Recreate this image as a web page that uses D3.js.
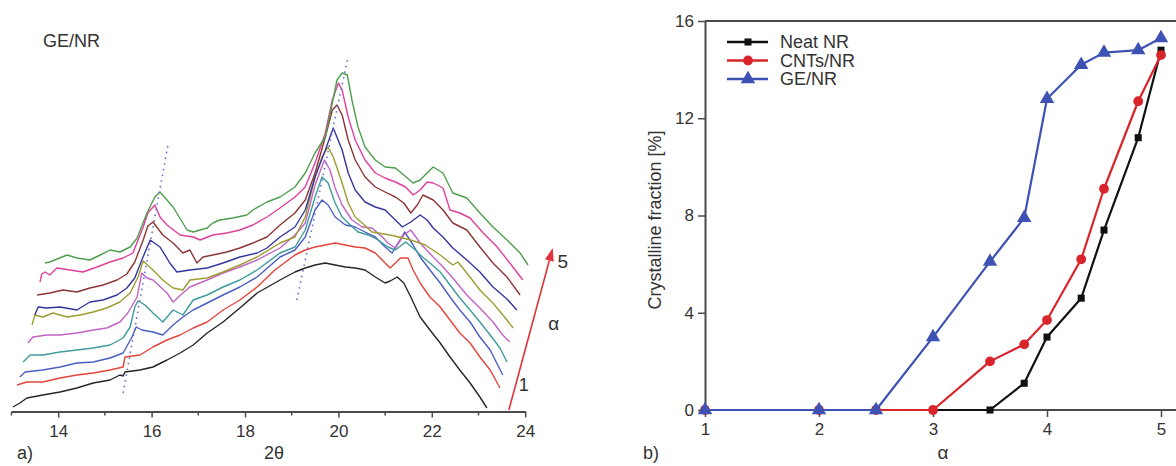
<!DOCTYPE html>
<html>
<head>
<meta charset="utf-8">
<script src="https://cdn.jsdelivr.net/npm/d3@7"></script>
<style>
  body { margin: 0; background: #fff; }
  svg text { font-family: "Liberation Sans", Arial, Helvetica, sans-serif; fill: #333; }
</style>
</head>
<body>
<svg id="fig" width="1176" height="466"></svg>
<script>
// ---------- (a) WAXD patterns of GE/NR, 2θ [deg] vs intensity [a.u.], α = 1 … 5 ----------
const curve1 = [[13.03,4],[13.18,8],[13.33,13],[13.67,16],[14.04,19],[14.40,23],[14.75,28],[15.11,31],[15.32,36],[15.39,35],[15.43,39],[15.75,41],[16.03,44],[16.33,51],[16.61,58],[16.89,66],[17.19,78],[17.53,89],[17.89,103],[18.26,118],[18.75,131],[19.07,139],[19.29,143],[19.50,146],[19.72,148],[19.93,146],[20.15,144],[20.36,143],[20.57,141],[20.79,134],[21.00,128],[21.11,130],[21.26,134],[21.40,128],[21.55,114],[21.75,94],[21.96,81],[22.18,68],[22.39,54],[22.60,41],[22.82,28],[23.03,14],[23.18,3]];
const curve2 = [[13.12,26],[13.33,29],[13.67,29],[14.04,33],[14.40,36],[14.75,38],[15.11,41],[15.39,44],[15.43,54],[15.75,56],[16.03,64],[16.33,71],[16.61,76],[16.89,83],[17.19,89],[17.53,101],[17.89,111],[18.26,124],[18.64,141],[19.07,156],[19.29,161],[19.50,164],[19.72,166],[19.93,168],[20.15,166],[20.36,164],[20.57,163],[20.79,158],[21.00,148],[21.11,143],[21.33,153],[21.49,153],[21.60,141],[21.75,128],[21.96,114],[22.18,104],[22.39,91],[22.60,78],[22.82,68],[23.03,54],[23.25,41],[23.46,23]];
const curve3 = [[13.18,34],[13.29,39],[13.67,41],[14.04,44],[14.40,48],[14.75,49],[15.11,53],[15.39,58],[15.58,74],[15.67,84],[15.79,81],[16.03,79],[16.24,76],[16.46,86],[16.67,94],[16.89,101],[17.19,108],[17.53,116],[17.89,124],[18.26,134],[18.75,154],[19.07,161],[19.29,174],[19.50,201],[19.65,211],[19.78,206],[19.93,194],[20.15,186],[20.36,184],[20.57,179],[20.79,174],[21.00,164],[21.15,158],[21.42,179],[21.60,166],[21.75,154],[21.96,141],[22.18,128],[22.39,114],[22.60,101],[22.82,89],[23.03,74],[23.25,61],[23.52,36]];
const curve4 = [[13.25,49],[13.40,56],[13.67,56],[14.04,59],[14.40,61],[14.75,63],[15.11,66],[15.39,73],[15.54,84],[15.64,104],[15.71,110],[15.86,106],[16.03,98],[16.24,89],[16.46,101],[16.67,96],[16.89,111],[17.19,116],[17.53,124],[17.89,131],[18.26,141],[18.75,158],[19.07,164],[19.29,181],[19.50,214],[19.65,234],[19.78,228],[19.93,208],[20.08,194],[20.21,188],[20.42,179],[20.64,176],[20.85,171],[21.06,164],[21.22,161],[21.44,169],[21.65,161],[21.75,156],[21.96,148],[22.18,139],[22.39,126],[22.60,113],[22.82,101],[23.03,89],[23.25,76],[23.46,63],[23.61,49]];
const curve5 = [[13.35,68],[13.46,74],[13.76,76],[14.04,76],[14.40,78],[14.75,81],[15.04,83],[15.32,89],[15.49,98],[15.69,114],[15.79,138],[15.90,133],[16.03,131],[16.33,118],[16.46,109],[16.67,118],[16.82,124],[17.19,131],[17.53,138],[17.89,144],[18.26,151],[18.75,163],[19.07,176],[19.29,188],[19.50,226],[19.70,251],[19.82,241],[19.93,223],[20.08,206],[20.29,191],[20.51,184],[20.72,183],[20.94,174],[21.06,168],[21.22,163],[21.40,176],[21.55,181],[21.75,168],[22.03,154],[22.24,144],[22.45,133],[22.75,116],[23.03,103],[23.31,89],[23.52,76],[23.67,69]];
const curve6 = [[13.44,86],[13.50,96],[13.67,94],[13.89,98],[14.19,94],[14.47,96],[14.75,99],[15.04,103],[15.32,109],[15.54,118],[15.71,134],[15.82,150],[16.03,141],[16.24,131],[16.46,123],[16.67,121],[16.82,131],[17.19,133],[17.53,139],[17.89,146],[18.26,154],[18.75,168],[19.07,174],[19.29,194],[19.50,234],[19.65,254],[19.78,264],[19.89,254],[20.08,228],[20.21,208],[20.36,194],[20.51,188],[20.72,179],[21.11,176],[21.55,171],[21.86,166],[22.18,156],[22.45,146],[22.56,149],[22.75,138],[23.03,121],[23.31,108],[23.61,91],[23.74,83]];
const curve7 = [[13.50,96],[13.57,104],[13.76,103],[14.04,104],[14.40,101],[14.68,109],[14.96,111],[15.26,116],[15.47,123],[15.64,133],[15.79,151],[15.97,171],[16.18,164],[16.39,148],[16.54,139],[16.82,141],[17.19,143],[17.53,148],[17.89,154],[18.26,158],[18.47,163],[18.75,174],[19.07,184],[19.29,201],[19.50,234],[19.72,261],[19.89,283],[20.08,261],[20.21,238],[20.36,221],[20.57,209],[20.79,204],[21.00,201],[21.22,191],[21.37,184],[21.55,189],[21.75,196],[21.90,191],[22.03,183],[22.24,174],[22.45,163],[22.75,151],[23.03,139],[23.31,124],[23.61,112],[23.82,101]];
const curve8 = [[13.55,116],[13.82,118],[14.10,121],[14.40,119],[14.68,123],[14.96,126],[15.26,131],[15.47,137],[15.64,149],[15.82,171],[15.92,185],[16.03,189],[16.24,176],[16.46,168],[16.67,158],[16.82,161],[16.97,148],[17.10,154],[17.31,156],[17.61,159],[17.89,163],[18.17,168],[18.47,174],[18.75,186],[19.07,198],[19.29,211],[19.50,238],[19.72,274],[19.87,301],[19.97,306],[20.08,296],[20.21,271],[20.36,251],[20.57,234],[20.79,224],[21.00,219],[21.22,214],[21.40,208],[21.55,198],[21.69,206],[21.81,216],[22.03,211],[22.24,201],[22.45,188],[22.75,181],[23.03,164],[23.31,148],[23.61,134],[23.89,116]];
const curve9 = [[13.61,129],[13.65,137],[13.72,139],[13.82,136],[13.97,143],[14.25,141],[14.53,139],[14.83,144],[15.11,149],[15.39,153],[15.60,158],[15.82,184],[15.92,198],[16.07,206],[16.18,194],[16.33,186],[16.61,176],[16.89,174],[17.04,171],[17.31,176],[17.61,178],[17.89,181],[18.17,186],[18.47,194],[18.75,203],[19.07,214],[19.29,224],[19.50,248],[19.72,278],[19.87,311],[20.00,328],[20.08,321],[20.21,294],[20.36,271],[20.57,251],[20.79,238],[21.00,233],[21.22,229],[21.44,224],[21.60,216],[21.75,221],[21.90,229],[22.03,228],[22.24,223],[22.39,201],[22.60,198],[22.82,193],[23.10,178],[23.40,164],[23.67,148],[23.95,131]];
const curve10 = [[13.72,148],[13.82,149],[14.19,156],[14.40,153],[14.68,151],[14.90,156],[15.11,161],[15.32,159],[15.54,164],[15.69,173],[15.90,198],[16.07,214],[16.18,219],[16.46,204],[16.76,181],[16.89,179],[17.19,183],[17.31,188],[17.46,191],[17.74,193],[18.04,196],[18.17,201],[18.47,209],[18.75,214],[19.07,224],[19.29,238],[19.50,258],[19.72,274],[19.87,308],[19.97,331],[20.08,338],[20.19,336],[20.29,311],[20.42,284],[20.57,264],[20.79,251],[21.00,244],[21.22,243],[21.40,236],[21.60,228],[21.75,231],[21.90,238],[22.03,244],[22.24,238],[22.45,218],[22.75,213],[23.03,198],[23.31,184],[23.61,171],[23.89,158],[24.06,146]];

// dotted guides through the two reflections, and the α arrow
const guide200 = [[15.39,18],[16.35,266]];
const guide120 = [[19.11,111],[20.21,355]];
const alphaArrow = [[23.65,1],[24.59,163]];

const thetaMajor = [14, 16, 18, 20, 22, 24];
const thetaMinor = [13, 15, 17, 19, 21, 23];

// ---------- (b) crystalline fraction vs α ----------
const alpha   = [1, 2, 2.5, 3, 3.5, 3.8, 4, 4.3, 4.5, 4.8, 5];
const neatNR  = [0, 0, 0, 0, 0, 1.1, 3.0, 4.6, 7.4, 11.2, 14.8];
const cntsNR  = [0, 0, 0, 0, 2.0, 2.7, 3.7, 6.2, 9.1, 12.7, 14.6];
const geNR    = [0, 0, 0, 3.0, 6.1, 7.9, 12.8, 14.2, 14.7, 14.8, 15.3];
const seriesNames = ["Neat NR", "CNTs/NR", "GE/NR"];
const alphaTicks = [1, 2, 3, 4, 5];
const fractionTicks = [0, 4, 8, 12, 16];

const svg = d3.select("#fig");
const axisColor = "#4a4a4a";

// ======== panel (a) ========
const xL = d3.scaleLinear().domain([13, 24]).range([11.5, 525.2]);
const yL = d3.scaleLinear().domain([0, 400]).range([411, 11]);
const lineL = d3.line().x(d => xL(d[0])).y(d => yL(d[1]));

const curves = [curve1, curve2, curve3, curve4, curve5, curve6, curve7, curve8, curve9, curve10];
const curveColors = ["#262626", "#e5443a", "#4a5ec4", "#3f9c9c", "#c264c6", "#9d9d31", "#36379e", "#8c3535", "#e0409a", "#4f9f4f"];

const gA = svg.append("g");
curves.forEach((c, i) => {
  gA.append("path").datum(c).attr("d", lineL)
    .attr("fill", "none").attr("stroke", curveColors[i])
    .attr("stroke-width", 1.4).attr("stroke-linejoin", "round");
});

[guide200, guide120].forEach(g => {
  gA.append("path").datum(g).attr("d", lineL)
    .attr("fill", "none").attr("stroke", "#6a72d6")
    .attr("stroke-width", 1.6).attr("stroke-dasharray", "1.6,4.2");
});

// α arrow
const a0 = [xL(alphaArrow[0][0]), yL(alphaArrow[0][1])];
const a1 = [xL(alphaArrow[1][0]), yL(alphaArrow[1][1])];
const ang = Math.atan2(a1[1] - a0[1], a1[0] - a0[0]);
const headLen = 13, headW = 4.5;
const base = [a1[0] - headLen * Math.cos(ang), a1[1] - headLen * Math.sin(ang)];
gA.append("line").attr("x1", a0[0]).attr("y1", a0[1]).attr("x2", base[0]).attr("y2", base[1])
  .attr("stroke", "#e0343a").attr("stroke-width", 1.6);
gA.append("path")
  .attr("d", `M${a1[0]},${a1[1]}L${base[0] + headW * Math.sin(ang)},${base[1] - headW * Math.cos(ang)}L${base[0] - headW * Math.sin(ang)},${base[1] + headW * Math.cos(ang)}Z`)
  .attr("fill", "#e0343a");
gA.append("text").attr("x", a0[0] + 15).attr("y", yL(26) + 6).attr("font-size", 18).attr("text-anchor", "middle").text("1");
gA.append("text").attr("x", a1[0] + 10).attr("y", yL(149) + 6).attr("font-size", 19).attr("text-anchor", "middle").text("5");
gA.append("text").attr("x", a1[0] + 1).attr("y", yL(87) + 6).attr("font-size", 19).attr("text-anchor", "middle").text("α");

// 2θ axis
const axA = gA.append("g").attr("transform", "translate(0,411.5)")
  .call(d3.axisBottom(xL).tickValues(thetaMajor).tickSize(6).tickSizeOuter(0).tickPadding(7).tickFormat(d3.format("d")));
axA.select(".domain").attr("stroke", axisColor).attr("stroke-width", 2);
axA.selectAll(".tick line").attr("stroke", axisColor).attr("stroke-width", 1.5);
axA.selectAll(".tick text").attr("font-size", 17).attr("fill", "#333")
  .attr("font-family", '"Liberation Sans", Arial, sans-serif');
gA.append("g").attr("transform", "translate(0,411.5)")
  .selectAll("line").data(thetaMinor).join("line")
  .attr("x1", d => xL(d)).attr("x2", d => xL(d)).attr("y1", 0).attr("y2", 4)
  .attr("stroke", axisColor).attr("stroke-width", 1.5);

gA.append("text").attr("x", 274).attr("y", 459).attr("font-size", 18).attr("text-anchor", "middle").text("2θ");
gA.append("text").attr("x", 17).attr("y", 459).attr("font-size", 18).text("a)");
gA.append("text").attr("x", 43).attr("y", 47).attr("font-size", 18).text("GE/NR");

// ======== panel (b) ========
const xR = d3.scaleLinear().domain([1, 5]).range([705, 1161]);
const yR = d3.scaleLinear().domain([0, 16]).range([410, 21]);
const gB = svg.append("g");

// frame: left, top, bottom
gB.append("line").attr("x1", 705).attr("x2", 1176).attr("y1", yR(16)).attr("y2", yR(16))
  .attr("stroke", axisColor).attr("stroke-width", 2);
const axBx = gB.append("g").attr("transform", `translate(0,${yR(0)})`)
  .call(d3.axisBottom(xR).tickValues(alphaTicks).tickSize(7).tickSizeOuter(0).tickPadding(6).tickFormat(d3.format("d")));
axBx.select(".domain").attr("d", `M705,0H1176`).attr("stroke", axisColor).attr("stroke-width", 2);
const axBy = gB.append("g").attr("transform", "translate(705,0)")
  .call(d3.axisLeft(yR).tickValues(fractionTicks).tickSize(7).tickSizeOuter(0).tickPadding(4).tickFormat(d3.format("d")));
axBy.select(".domain").attr("stroke", axisColor).attr("stroke-width", 2);
[axBx, axBy].forEach(ax => {
  ax.selectAll(".tick line").attr("stroke", axisColor).attr("stroke-width", 1.5);
  ax.selectAll(".tick text").attr("font-size", 17).attr("fill", "#333")
    .attr("font-family", '"Liberation Sans", Arial, sans-serif');
});

gB.append("text").attr("transform", "translate(661,220) rotate(-90)").attr("font-size", 18)
  .attr("text-anchor", "middle").text("Crystalline fraction [%]");
gB.append("text").attr("x", 943).attr("y", 459).attr("font-size", 19).attr("text-anchor", "middle").text("α");
gB.append("text").attr("x", 643).attr("y", 459).attr("font-size", 18).text("b)");

const seriesVals = [neatNR, cntsNR, geNR];
const seriesColors = ["#111111", "#d9242b", "#3d52b3"];
const seriesSymbols = [d3.symbolSquare, d3.symbolCircle, d3.symbolTriangle];
const symbolSizes = [50, 75, 90];
const lineR = d3.line().x(d => xR(d[0])).y(d => yR(d[1]));

seriesVals.forEach((vals, i) => {
  const pts = alpha.map((a, k) => [a, vals[k]]);
  gB.append("path").datum(pts).attr("d", lineR).attr("fill", "none")
    .attr("stroke", seriesColors[i]).attr("stroke-width", 2.2).attr("stroke-linejoin", "round");
  gB.selectAll(null).data(pts).join("path")
    .attr("transform", d => `translate(${xR(d[0])},${yR(d[1])})`)
    .attr("d", d3.symbol().type(seriesSymbols[i]).size(symbolSizes[i]))
    .attr("fill", seriesColors[i]);
});

// legend
const leg = gB.append("g");
seriesNames.forEach((name, i) => {
  const yy = 42 + i * 18.5;
  leg.append("line").attr("x1", 727).attr("x2", 768).attr("y1", yy).attr("y2", yy)
    .attr("stroke", seriesColors[i]).attr("stroke-width", 2.4);
  leg.append("path").attr("transform", `translate(748,${yy})`)
    .attr("d", d3.symbol().type(seriesSymbols[i]).size(symbolSizes[i])).attr("fill", seriesColors[i]);
  leg.append("text").attr("x", 780).attr("y", yy + 6).attr("font-size", 18).text(name);
});
</script>
</body>
</html>
